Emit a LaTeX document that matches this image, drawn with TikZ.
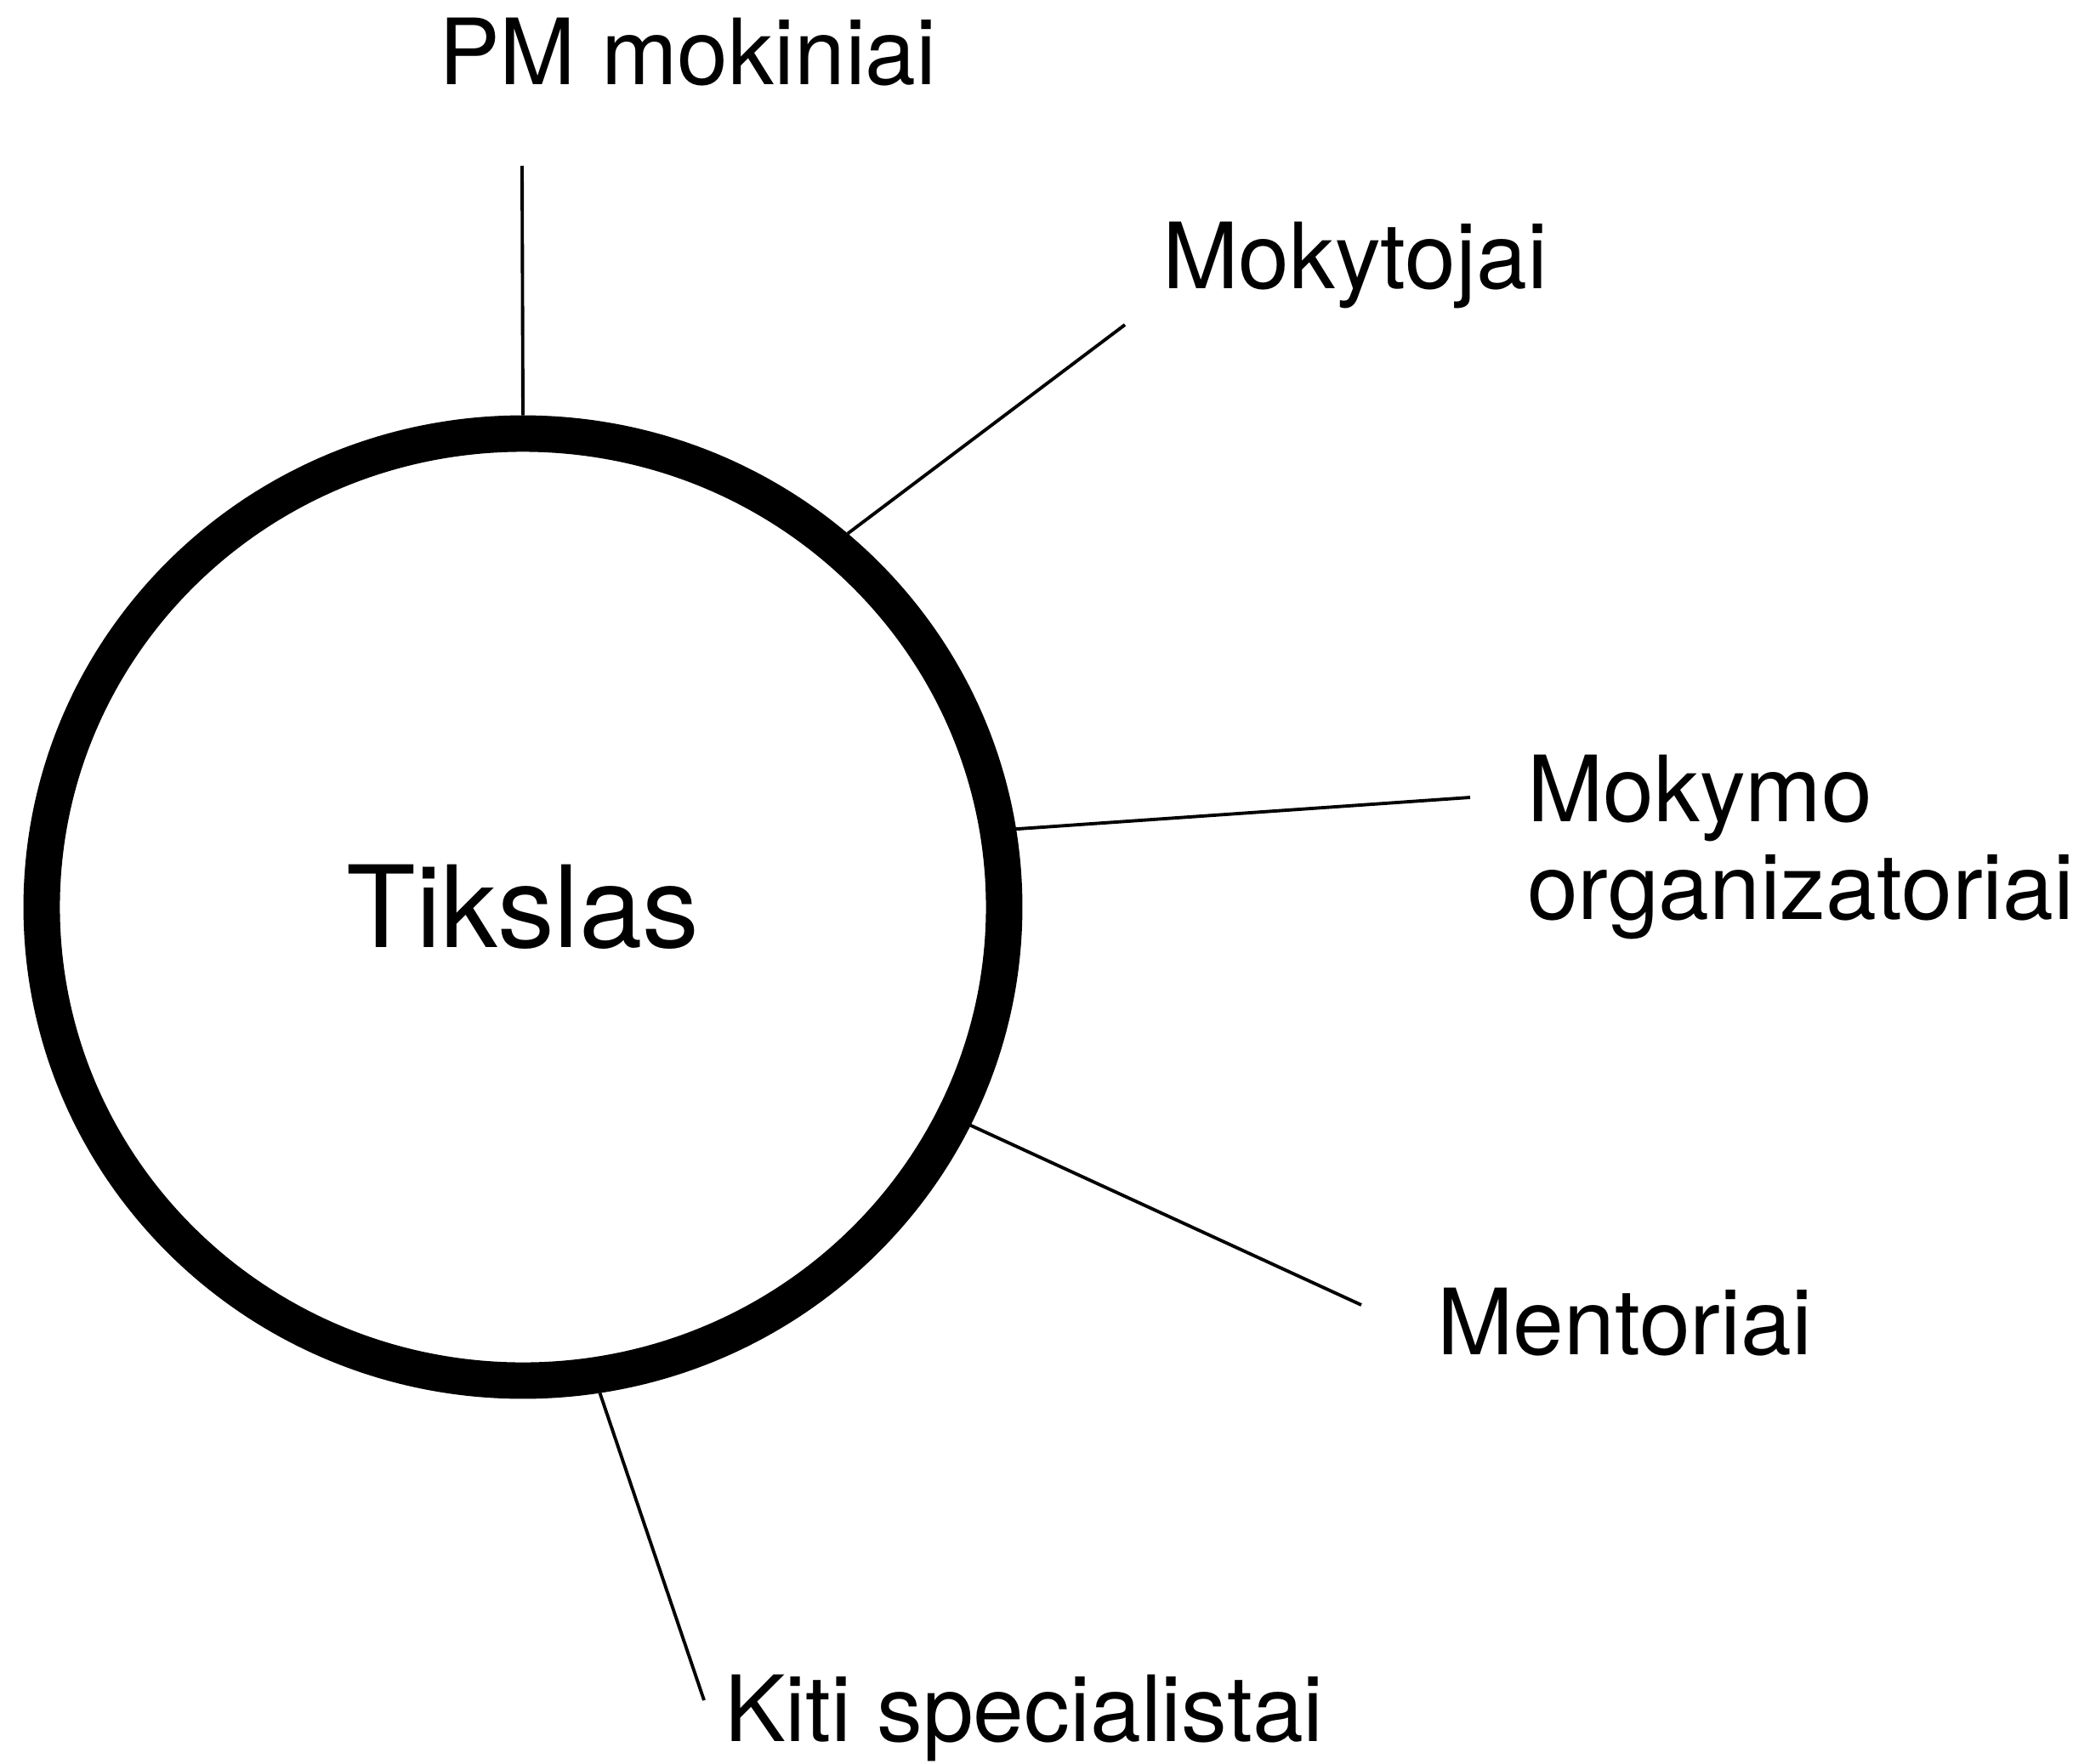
\documentclass[tikz,border=0pt]{standalone}
\usepackage{fontspec}
\setmainfont{TeX Gyre Heros}
\usetikzlibrary{shapes.geometric}
\tikzset{
	lbl/.style={anchor=base west, inner sep=0pt, outer sep=0pt, align=left, font=\fontsize{30.6}{32.7}\selectfont},
	ray/.style={line width=1.1pt}
}

\begin{document}
\begin{tikzpicture}
			%%%%% START %%%%%
			\useasboundingbox (0, 0) rectangle (24.58, -20.75);
			
			\node[draw, ellipse, line width=12.2pt, minimum width=11.32cm, minimum height=11.14cm, inner sep=0pt, font=\fontsize{38}{40}\selectfont] (tikslas) at (6.15, -10.67) {Tikslas};
			
			\coordinate (pmend) at (6.14, -1.95);
			\coordinate (mokend) at (13.23, -3.82);
			\coordinate (orgend) at (17.29, -9.38);
			\coordinate (mentend) at (16.01, -15.35);
			\coordinate (kitiend) at (8.28, -20.00);
			
			\draw[ray] (tikslas.north) -- (pmend);
			\draw[ray] (tikslas.49) -- (mokend);
			\draw[ray] (tikslas.9.9) -- (orgend);
			\draw[ray] (tikslas.-26.3) -- (mentend);
			\draw[ray] (tikslas.-81.5) -- (kitiend);
			
			\node[lbl] (pm) at (5.16, -0.99) {PM mokiniai};
			\node[lbl] (mokytojai) at (13.67, -3.39) {Mokytojai};
			\node[lbl] (organizatoriai) at (17.96, -10.81) {Mokymo\\organizatoriai};
			\node[lbl] (mentoriai) at (16.90, -15.93) {Mentoriai};
			\node[lbl] (kiti) at (8.52, -20.48) {Kiti specialistai};
			%%%%% END %%%%%
		\end{tikzpicture}
\end{document}
